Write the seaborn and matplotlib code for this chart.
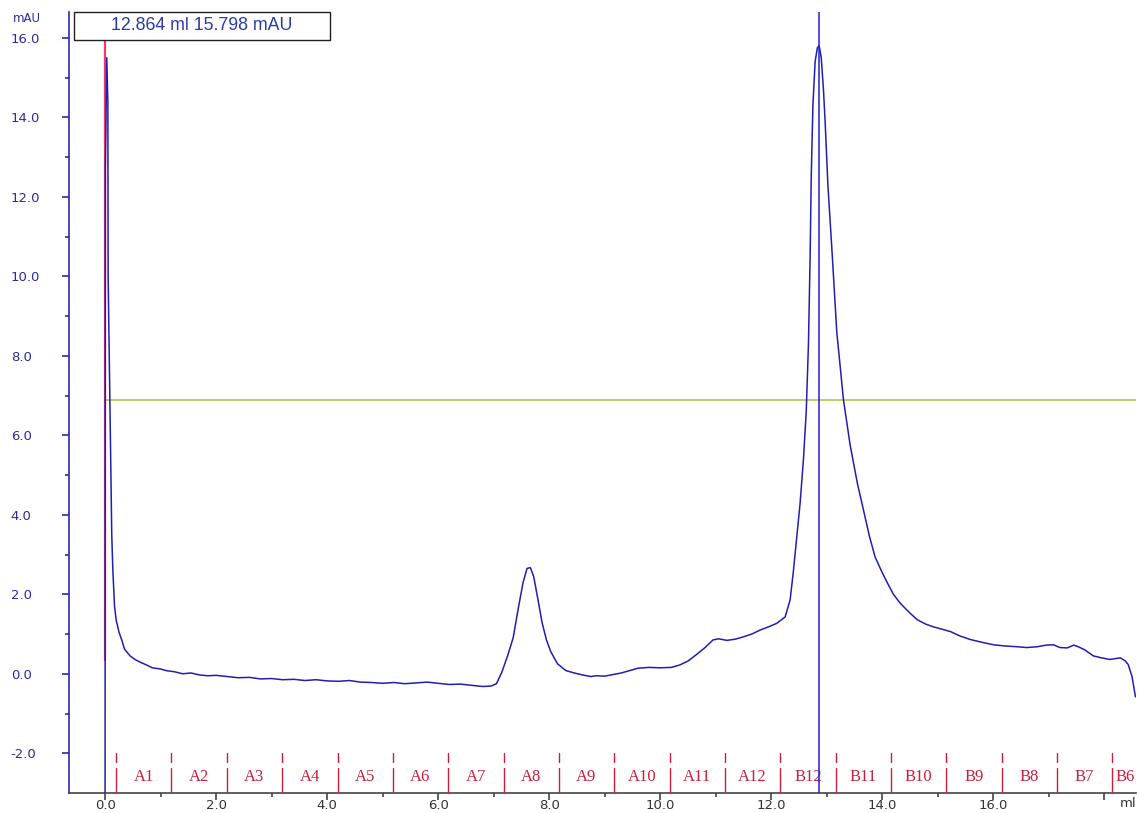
import matplotlib
matplotlib.use("Agg")
import matplotlib.pyplot as plt
import seaborn as sns
import pandas as pd

# UV trace (ml, mAU)
volume_ml = [
    0.00, 0.005, 0.03, 0.05, 0.055, 0.08, 0.10, 0.12, 0.14, 0.17, 0.20, 0.25,
    0.30, 0.35, 0.45, 0.55, 0.65, 0.75, 0.85, 1.0, 1.1, 1.25, 1.4, 1.55, 1.7,
    1.85, 2.0, 2.2, 2.4, 2.6, 2.8, 3.0, 3.2, 3.4, 3.6, 3.8, 4.0, 4.2, 4.4, 4.6,
    4.8, 5.0, 5.2, 5.4, 5.6, 5.8, 6.0, 6.2, 6.4, 6.6, 6.8, 6.95, 7.05, 7.15,
    7.25, 7.35, 7.45, 7.53, 7.6, 7.66, 7.72, 7.8, 7.87, 7.95, 8.03, 8.15, 8.3,
    8.45, 8.6, 8.75, 8.85, 9.0, 9.15, 9.3, 9.45, 9.6, 9.8, 10.0, 10.2, 10.35,
    10.5, 10.65, 10.8, 10.95, 11.05, 11.2, 11.35, 11.5, 11.65, 11.8, 11.95,
    12.1, 12.25, 12.34, 12.4, 12.45, 12.52, 12.58, 12.63, 12.67, 12.7, 12.72,
    12.75, 12.79, 12.83, 12.864, 12.9, 12.94, 12.97, 13.02, 13.1, 13.18, 13.3,
    13.42, 13.55, 13.66, 13.77, 13.87, 13.98, 14.09, 14.2, 14.32, 14.48, 14.63,
    14.78, 14.92, 15.08, 15.23, 15.4, 15.59, 15.8, 16.0, 16.2, 16.43, 16.6,
    16.79, 16.95, 17.08, 17.2, 17.33, 17.45, 17.53, 17.65, 17.8, 17.95, 18.1,
    18.2, 18.29, 18.38, 18.43, 18.5, 18.56,
]
absorbance_mau = [
    -3.0, 12.7, 15.5, 14.4, 10.0, 7.5, 5.7, 3.5, 2.6, 1.7, 1.35, 1.05,
    0.85, 0.62, 0.45, 0.35, 0.28, 0.22, 0.15, 0.12, 0.08, 0.05, 0.0, 0.02, -0.03,
    -0.05, -0.04, -0.07, -0.10, -0.09, -0.13, -0.12, -0.15, -0.14, -0.17, -0.15,
    -0.18, -0.19, -0.17, -0.21, -0.22, -0.24, -0.22, -0.25, -0.23, -0.21, -0.24,
    -0.27, -0.26, -0.29, -0.32, -0.31, -0.25, 0.05, 0.45, 0.90, 1.70, 2.30,
    2.65, 2.67, 2.45, 1.85, 1.30, 0.85, 0.55, 0.25, 0.08, 0.02, -0.03, -0.07,
    -0.05, -0.06, -0.02, 0.02, 0.08, 0.14, 0.16, 0.15, 0.16, 0.22, 0.32, 0.48,
    0.65, 0.85, 0.88, 0.84, 0.87, 0.93, 1.00, 1.10, 1.18, 1.27, 1.43, 1.86,
    2.6, 3.3, 4.3, 5.4, 6.6, 8.3, 10.5, 12.5, 14.3, 15.4, 15.75, 15.798, 15.5,
    14.7, 13.9, 12.3, 10.5, 8.6, 6.9, 5.76, 4.8, 4.13, 3.45, 2.94, 2.6, 2.29,
    2.0, 1.78, 1.55, 1.36, 1.25, 1.18, 1.12, 1.06, 0.95, 0.86, 0.79, 0.73, 0.70,
    0.68, 0.66, 0.68, 0.72, 0.73, 0.66, 0.65, 0.72, 0.68, 0.60, 0.45, 0.40,
    0.36, 0.38, 0.40, 0.32, 0.23, -0.08, -0.58,
]

# Fraction collector boundaries and tube names
fraction_starts = [0.20, 1.19, 2.19, 3.19, 4.19, 5.18, 6.18, 7.18, 8.17, 9.17,
                   10.17, 11.16, 12.16, 13.16, 14.16, 15.15, 16.15, 17.15, 18.14]
fraction_names = ["A1", "A2", "A3", "A4", "A5", "A6", "A7", "A8", "A9", "A10",
                  "A11", "A12", "B12", "B11", "B10", "B9", "B8", "B7", "B6"]

cursor_ml = 12.864
cursor_mau = 15.798
injection_ml = 0.0
threshold_mau = 6.9

x_ticks = [0, 2, 4, 6, 8, 10, 12, 14, 16, 18]
x_ticklabels = ["0.0", "2.0", "4.0", "6.0", "8.0", "10.0", "12.0", "14.0", "16.0", ""]
y_ticks = [-2, 0, 2, 4, 6, 8, 10, 12, 14, 16]
y_ticklabels = ["-2.0", "0.0", "2.0", "4.0", "6.0", "8.0", "10.0", "12.0", "14.0", "16.0"]

XMIN, XMAX = -0.65, 18.57
YMIN, YMAX = -3.0, 16.65

sns.set_theme(style="white")
plt.rcParams["font.family"] = ["DejaVu Sans"]

TRACE = "#1f1fb0"
AXIS_BLUE = "#2a2ab8"
LABEL_BLUE = "#2b2b9c"
FRAC_RED = "#c8203c"

W, H = 1139, 813
fig = plt.figure(figsize=(W / 100, H / 100), dpi=100)
ax_left, ax_bottom, ax_w, ax_h = 69 / W, 20 / H, (1136 - 69) / W, (793 - 12) / H
ax = fig.add_axes([ax_left, ax_bottom, ax_w, ax_h])
ax.set_xlim(XMIN, XMAX)
ax.set_ylim(YMIN, YMAX)

# threshold line and injection mark
ax.plot([injection_ml, XMAX], [threshold_mau, threshold_mau], color="#a6c23a", lw=1.1, zorder=2)
ax.plot([injection_ml, injection_ml], [0.35, YMAX - 0.7], color="#f2386a", lw=1.6, zorder=2)

trace = pd.DataFrame({"ml": volume_ml, "mAU": absorbance_mau})
sns.lineplot(data=trace, x="ml", y="mAU", ax=ax, color=TRACE, lw=1.1,
             estimator=None, sort=False, zorder=3)

# cursor line
ax.axvline(cursor_ml, color="#2222c8", lw=1.1, zorder=4)

# fraction marks
for i, start in enumerate(fraction_starts):
    ax.plot([start, start], [-2.0, -2.21], color=FRAC_RED, lw=1.0, zorder=3)
    ax.plot([start, start], [-2.36, YMIN], color=FRAC_RED, lw=1.0, zorder=3)
    if i + 1 < len(fraction_starts):
        mid = (start + fraction_starts[i + 1]) / 2
    else:
        mid = start + 0.24
    ax.text(mid, -2.6, fraction_names[i], color=FRAC_RED, ha="center", va="center",
            fontsize=12, family="Liberation Serif")

# axes styling
for side in ("top", "right"):
    ax.spines[side].set_visible(False)
ax.spines["left"].set_color(AXIS_BLUE)
ax.spines["left"].set_linewidth(1.2)
ax.spines["bottom"].set_color("#444444")
ax.spines["bottom"].set_linewidth(1.2)

ax.set_xticks(x_ticks)
ax.set_xticklabels(x_ticklabels)
ax.set_xticks([1, 3, 5, 7, 9, 11, 13, 15, 17], minor=True)
ax.set_yticks(y_ticks)
ax.set_yticklabels(y_ticklabels)
ax.set_yticks([-1, 1, 3, 5, 7, 9, 11, 13, 15], minor=True)
ax.tick_params(axis="x", which="major", direction="out", length=5, width=1.2,
               color="#444444", labelsize=9.5, labelcolor="#333333", pad=-1, bottom=True)
ax.tick_params(axis="x", which="minor", direction="out", length=3, width=1.2,
               color="#444444", bottom=True)
ax.tick_params(axis="y", which="major", direction="out", length=5, width=1.2,
               color=AXIS_BLUE, labelsize=9.5, labelcolor=LABEL_BLUE, pad=37, left=True)
ax.tick_params(axis="y", which="minor", direction="out", length=3, width=1.2,
               color=AXIS_BLUE, left=True)
for lab in ax.get_yticklabels():
    lab.set_horizontalalignment("left")
ax.set_xlabel("")
ax.set_ylabel("")
ax.grid(False)

fig.text(13 / W, 1 - 18 / H, "mAU", color=LABEL_BLUE, fontsize=8.5,
         ha="left", va="center")
fig.text(1136 / W, 1 - 803 / H, "ml", color="#333333", fontsize=9.5,
         ha="right", va="center")

# cursor readout box (figure-pixel placement converted to axes fractions)
def to_ax(px, py):
    return (px / W - ax_left) / ax_w, ((1 - py / H) - ax_bottom) / ax_h

bx0, by0 = to_ax(74, 40)
bx1, by1 = to_ax(330, 12)
box = plt.Rectangle((bx0, by0), bx1 - bx0, by1 - by0, transform=ax.transAxes,
                    fc="white", ec="#222222", lw=1.0, zorder=5, clip_on=False)
ax.add_patch(box)
ax.text((bx0 + bx1) / 2, (by0 + by1) / 2, f"{cursor_ml:.3f} ml {cursor_mau:.3f} mAU",
        transform=ax.transAxes, ha="center", va="center", color="#2b3aa8",
        fontsize=12.8, family="Liberation Sans", zorder=6, clip_on=False)

fig.savefig("out.png", dpi=100)
